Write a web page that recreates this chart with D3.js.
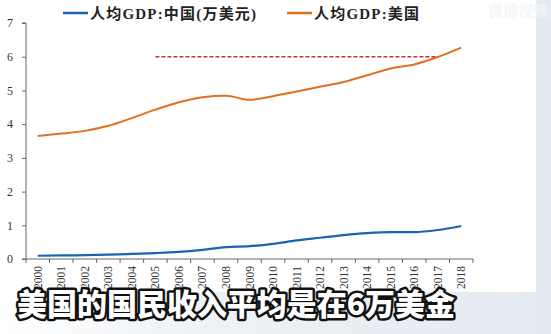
<!DOCTYPE html>
<html>
<head>
<meta charset="utf-8">
<script src="https://cdn.jsdelivr.net/npm/d3@7/dist/d3.min.js"></script>
<style>
  html, body { margin: 0; padding: 0; background: #ffffff; }
  svg { display: block; }
</style>
</head>
<body>
<svg id="chart" width="551" height="334"></svg>
<script>
// Per-capita GDP, in units of 10,000 USD
const years = ["2000","2001","2002","2003","2004","2005","2006","2007","2008","2009",
               "2010","2011","2012","2013","2014","2015","2016","2017","2018"];
const chinaGdp = [0.096,0.105,0.114,0.129,0.151,0.175,0.21,0.27,0.35,0.38,
                  0.45,0.55,0.63,0.71,0.77,0.80,0.80,0.86,0.98];
const usGdp = [3.65,3.72,3.80,3.95,4.18,4.43,4.65,4.80,4.84,4.72,
               4.83,4.97,5.11,5.25,5.45,5.65,5.77,5.99,6.27];
const yTicks = [0,1,2,3,4,5,6,7];
const seriesNames = ["人均GDP:中国(万美元)", "人均GDP:美国"];
const refLevel = 6;            // dashed reference level
const refSpan = ["2005","2017"];
const caption = "美国的国民收入平均是在6万美金";
const watermark = "微博视频";

const svg = d3.select("#chart");
const W = 551, H = 334;

// background panels
svg.append("rect").attr("x", 0).attr("y", 0).attr("width", W).attr("height", H).attr("fill", "#ffffff");
const grad = svg.append("defs").append("linearGradient").attr("id", "bottomFade")
  .attr("x1", 0).attr("x2", 1).attr("y1", 0).attr("y2", 0);
grad.append("stop").attr("offset", "0%").attr("stop-color", "#ffffff");
grad.append("stop").attr("offset", "35%").attr("stop-color", "#eef2f6");
grad.append("stop").attr("offset", "100%").attr("stop-color", "#e3eaf0");
svg.append("rect").attr("x", 0).attr("y", 292).attr("width", W).attr("height", H - 292).attr("fill", "url(#bottomFade)");
svg.append("rect").attr("x", 536).attr("y", 0).attr("width", W - 536).attr("height", H).attr("fill", "#e3eaf1");

// faint watermark
svg.append("text").attr("x", 488).attr("y", 16)
  .attr("font-family", "Noto Sans CJK SC").attr("font-size", 15).attr("font-weight", 700)
  .attr("fill", "#f3f5f7").text(watermark);

const x = d3.scaleBand().domain(years).range([26, 473]);
const y = d3.scaleLinear().domain([0, 7]).range([259, 23]);

// y axis
const yAxis = svg.append("g").attr("transform", "translate(26,0)")
  .call(d3.axisLeft(y).tickValues(yTicks).tickSize(4).tickPadding(9).tickFormat(d3.format("d")));
yAxis.selectAll("text").attr("font-family", "Liberation Serif").attr("font-size", 12).attr("fill", "#333");
yAxis.selectAll("line,path").attr("stroke", "#666");
yAxis.select(".domain").attr("d", "M-4,23H0V259H-4");

// x axis: ticks at category boundaries
const xAxisG = svg.append("g").attr("transform", "translate(0,259)");
xAxisG.append("line").attr("x1", 26).attr("x2", 473).attr("y1", 0).attr("y2", 0).attr("stroke", "#666");
const edges = years.map(d => x(d)).concat([x.range()[1]]);
xAxisG.selectAll("line.tick").data(edges).join("line").attr("class", "tick")
  .attr("x1", d => d).attr("x2", d => d).attr("y1", 0).attr("y2", 4).attr("stroke", "#666");
xAxisG.selectAll("text").data(years).join("text")
  .attr("transform", d => `translate(${x(d) + x.bandwidth() / 2 + 4},7) rotate(-90)`)
  .attr("text-anchor", "end")
  .attr("font-family", "Liberation Serif").attr("font-size", 11.5).attr("fill", "#333")
  .text(d => d);

// series lines
const line = d3.line().x((d, i) => x(years[i]) + x.bandwidth() / 2).y(d => y(d)).curve(d3.curveMonotoneX);
svg.append("path").datum(usGdp).attr("d", line)
  .attr("fill", "none").attr("stroke", "#e2701f").attr("stroke-width", 2);
svg.append("path").datum(chinaGdp).attr("d", line)
  .attr("fill", "none").attr("stroke", "#1a64b0").attr("stroke-width", 2.2);

// dashed reference at 6
svg.append("line")
  .attr("x1", x(refSpan[0]) + x.bandwidth() / 2).attr("x2", x(refSpan[1]) + x.bandwidth() / 2)
  .attr("y1", y(refLevel)).attr("y2", y(refLevel))
  .attr("stroke", "#cf2f36").attr("stroke-width", 1.6).attr("stroke-dasharray", "4,2");

// legend
const legend = [
  { name: seriesNames[0], color: "#1a64b0", x: 63 },
  { name: seriesNames[1], color: "#e2701f", x: 287 }
];
const lg = svg.append("g");
legend.forEach(l => {
  lg.append("line").attr("x1", l.x).attr("x2", l.x + 25).attr("y1", 13).attr("y2", 13)
    .attr("stroke", l.color).attr("stroke-width", 2.5);
  lg.append("text").attr("x", l.x + 27).attr("y", 18.5)
    .attr("font-family", "Liberation Serif, Noto Sans CJK SC").attr("font-weight", 700)
    .attr("font-size", 15).attr("letter-spacing", 1.2).attr("fill", "#222").text(l.name);
});

// caption
svg.append("text").attr("x", 17).attr("y", 315)
  .attr("font-family", "Noto Sans CJK SC").attr("font-weight", 900).attr("font-size", 30)
  .attr("textLength", 438).attr("lengthAdjust", "spacingAndGlyphs")
  .attr("fill", "#ffffff").attr("stroke", "#111").attr("stroke-width", 5)
  .attr("paint-order", "stroke").attr("stroke-linejoin", "round")
  .text(caption);
</script>
</body>
</html>
